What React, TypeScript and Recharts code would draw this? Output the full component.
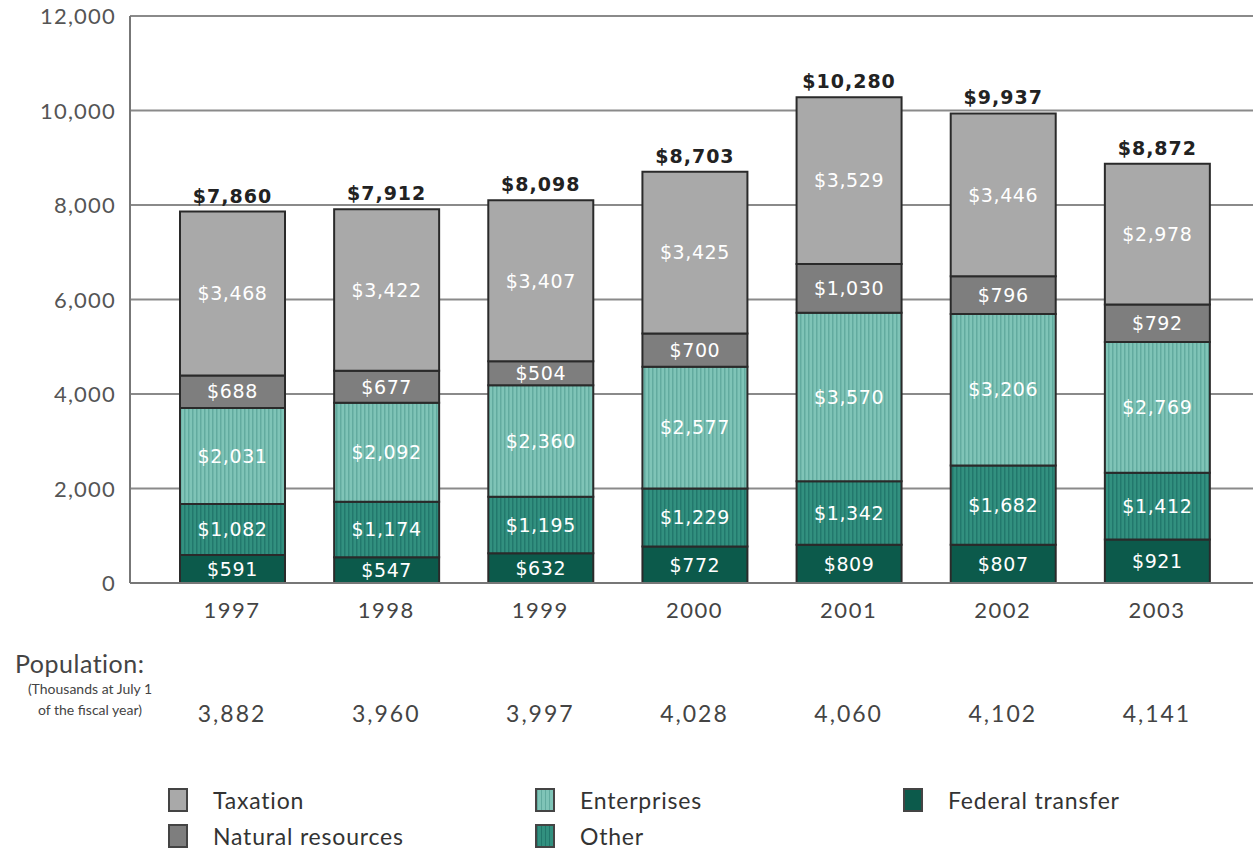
import { BarChart, Bar, XAxis, YAxis, CartesianGrid, LabelList } from "recharts";

const years = ["1997", "1998", "1999", "2000", "2001", "2002", "2003"];
const federalTransfer = [591, 547, 632, 772, 809, 807, 921];
const other = [1082, 1174, 1195, 1229, 1342, 1682, 1412];
const enterprises = [2031, 2092, 2360, 2577, 3570, 3206, 2769];
const naturalResources = [688, 677, 504, 700, 1030, 796, 792];
const taxation = [3468, 3422, 3407, 3425, 3529, 3446, 2978];
const totals = [7860, 7912, 8098, 8703, 10280, 9937, 8872];
const population = ["3,882", "3,960", "3,997", "4,028", "4,060", "4,102", "4,141"];
const yTicks = [0, 2000, 4000, 6000, 8000, 10000, 12000];

const data = years.map((year, i) => ({
  year,
  federal: federalTransfer[i],
  other: other[i],
  enterprises: enterprises[i],
  natural: naturalResources[i],
  taxation: taxation[i],
  total: totals[i],
}));

const money = (v: any) => `$${Number(v).toLocaleString("en-US")}`;
const valueFont = "'DejaVu Sans', Verdana, sans-serif";
const axisFont = "Lato, 'Open Sans', sans-serif";

const YearTick = (props: any) => {
  const { x, y, payload, index } = props;
  return (
    <g>
      <text x={x} y={y + 35} textAnchor="middle" fill="#444" fontSize={22} letterSpacing={1.5} fontFamily={axisFont}>
        {payload.value}
      </text>
      <text x={x} y={y + 139} textAnchor="middle" fill="#444" fontSize={23} letterSpacing={2} fontFamily={axisFont}>
        {population[index]}
      </text>
    </g>
  );
};

const YTick = (props: any) => {
  const { x, y, payload } = props;
  return (
    <text x={x} y={y + 8} textAnchor="end" fill="#555" fontSize={22} letterSpacing={1.2} fontFamily={axisFont}>
      {Number(payload.value).toLocaleString("en-US")}
    </text>
  );
};

const TotalLabel = (props: any) => {
  const { x, y, width, index } = props;
  return (
    <text
      x={x + width / 2}
      y={y - 9}
      textAnchor="middle"
      fill="#222"
      fontSize={19}
      letterSpacing={1}
      fontWeight="bold"
      fontFamily={valueFont}
    >
      {money(totals[index])}
    </text>
  );
};

const innerLabel = {
  position: "center" as const,
  fill: "#fff",
  fontSize: 19,
  letterSpacing: 0.6,
  fontFamily: valueFont,
  formatter: money,
};

const legendItems = [
  { name: "Taxation", fill: "#a9a9a9", left: 168, top: 788 },
  { name: "Natural resources", fill: "#7e7e7e", left: 168, top: 824 },
  { name: "Enterprises", fill: "#7cc1b5", left: 535, top: 788 },
  { name: "Other", fill: "#2e897e", left: 535, top: 824 },
  { name: "Federal transfer", fill: "#0c5a4b", left: 903, top: 788 },
];

const swatchBg = (name: string, fill: string) => {
  if (name === "Enterprises") return "repeating-linear-gradient(90deg,#62ab9f 0 1.5px,#7fc4b7 1.5px 4px)";
  if (name === "Other") return "repeating-linear-gradient(90deg,#22786c 0 1.5px,#32907f 1.5px 4px)";
  return fill;
};

export default function App() {
  return (
    <div
      style={{
        position: "absolute",
        left: 0,
        top: 0,
        width: 1253,
        height: 850,
        background: "#fff",
        overflow: "hidden",
        fontFamily: axisFont,
      }}
    >
      <BarChart
        width={1253}
        height={760}
        data={data}
        margin={{ top: 16, right: 0, bottom: 17, left: 0 }}
        barSize={105}
      >
        <defs>
          <pattern id="entStripes" width="4" height="4" patternUnits="userSpaceOnUse">
            <rect width="4" height="4" fill="#7fc4b7" />
            <rect width="1.5" height="4" fill="#62ab9f" />
          </pattern>
          <pattern id="otherStripes" width="4" height="4" patternUnits="userSpaceOnUse">
            <rect width="4" height="4" fill="#32907f" />
            <rect width="1.5" height="4" fill="#22786c" />
          </pattern>
        </defs>
        <CartesianGrid vertical={false} stroke="#8a8a8a" strokeWidth={2} />
        <XAxis
          dataKey="year"
          height={160}
          tickLine={false}
          tickSize={0}
          tickMargin={0}
          axisLine={{ stroke: "#777", strokeWidth: 2 }}
          padding={{ left: 25, right: 19 }}
          tick={<YearTick />}
          interval={0}
        />
        <YAxis
          width={130}
          domain={[0, 12000]}
          ticks={yTicks}
          tickLine={false}
          tickSize={0}
          tickMargin={14}
          axisLine={{ stroke: "#777", strokeWidth: 2 }}
          tick={<YTick />}
        />
        <Bar dataKey="federal" stackId="a" fill="#0c5a4b" stroke="#2a2a2a" strokeWidth={2} isAnimationActive={false}>
          <LabelList dataKey="federal" {...innerLabel} />
        </Bar>
        <Bar dataKey="other" stackId="a" fill="url(#otherStripes)" stroke="#2a2a2a" strokeWidth={2} isAnimationActive={false}>
          <LabelList dataKey="other" {...innerLabel} />
        </Bar>
        <Bar dataKey="enterprises" stackId="a" fill="url(#entStripes)" stroke="#2a2a2a" strokeWidth={2} isAnimationActive={false}>
          <LabelList dataKey="enterprises" {...innerLabel} />
        </Bar>
        <Bar dataKey="natural" stackId="a" fill="#7e7e7e" stroke="#2a2a2a" strokeWidth={2} isAnimationActive={false}>
          <LabelList dataKey="natural" {...innerLabel} />
        </Bar>
        <Bar dataKey="taxation" stackId="a" fill="#a9a9a9" stroke="#2a2a2a" strokeWidth={2} isAnimationActive={false}>
          <LabelList dataKey="taxation" {...innerLabel} />
          <LabelList dataKey="total" content={<TotalLabel />} />
        </Bar>
      </BarChart>

      <div style={{ position: "absolute", left: 15, top: 648, fontSize: 25, letterSpacing: 0.5, color: "#444" }}>
        Population:
      </div>
      <div
        style={{
          position: "absolute",
          left: 4,
          top: 678,
          width: 172,
          fontSize: 14,
          lineHeight: "21px",
          color: "#444",
          textAlign: "center",
        }}
      >
        (Thousands at July 1
        <br />
        of the fiscal year)
      </div>

      {legendItems.map((it) => (
        <div
          key={it.name}
          style={{
            position: "absolute",
            left: it.left,
            top: it.top,
            height: 24,
            display: "flex",
            alignItems: "center",
            lineHeight: "24px",
          }}
        >
          <span
            style={{
              display: "inline-block",
              width: 20,
              height: 24,
              background: swatchBg(it.name, it.fill),
              border: "2px solid #444",
              boxSizing: "border-box",
            }}
          />
          <span style={{ marginLeft: 25, fontSize: 23, letterSpacing: 0.8, color: "#333" }}>{it.name}</span>
        </div>
      ))}
    </div>
  );
}
